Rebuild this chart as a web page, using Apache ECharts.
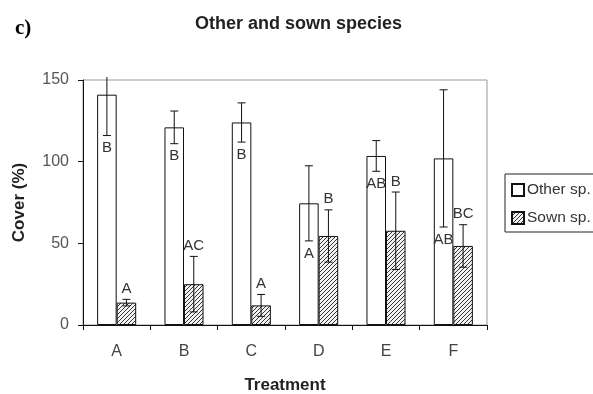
<!DOCTYPE html>
<html>
<head>
<meta charset="utf-8">
<script src="https://cdn.jsdelivr.net/npm/echarts@6/dist/echarts.min.js"></script>
<style>
html,body{margin:0;padding:0;background:#fff;}
#chart{width:593px;height:394px;}
</style>
</head>
<body>
<div id="chart"></div>
<script>
const categories = ['A', 'B', 'C', 'D', 'E', 'F'];
const otherMean = [141, 121, 124, 74.5, 103.5, 102];
const otherErr = [25, 10, 12, 23, 9.4, 42];
const sownMean = [13.7, 25, 12, 54.5, 57.7, 48.4];
const sownErr = [2, 17, 6.7, 16, 23.7, 13];
const otherLetters = ['B', 'B', 'B', 'A', 'AB', 'AB'];
const sownLetters = ['A', 'AC', 'A', 'B', 'B', 'BC'];
const yMin = 0, yMax = 150, yInterval = 50;

const BAR_FRAC = 0.29;
const FONT = 'Liberation Sans, Arial, sans-serif';

// hatch pattern
const pc = document.createElement('canvas');
pc.width = 4; pc.height = 4;
const pctx = pc.getContext('2d');
pctx.fillStyle = '#f2f2f2';
pctx.fillRect(0, 0, 4, 4);
pctx.strokeStyle = '#333';
pctx.lineWidth = 1;
pctx.beginPath();
pctx.moveTo(0, 4); pctx.lineTo(4, 0);
pctx.moveTo(-1, 1); pctx.lineTo(1, -1);
pctx.moveTo(3, 5); pctx.lineTo(5, 3);
pctx.stroke();
const hatch = { image: pc, repeat: 'repeat' };

function makeErr(side, means, errs, letters, letterAbove) {
  return function (params, api) {
    const i = api.value(0);
    const m = api.value(1);
    const e = api.value(2);
    const bw = api.size([1, 0])[0] * BAR_FRAC;
    const cx = api.coord([i, 0])[0] + side * bw / 2;
    const pTop = api.coord([i, m + e])[1];
    const pBot = api.coord([i, m - e])[1];
    const pLim = api.coord([i, yMax])[1];
    const clipped = (m + e) > yMax;
    const top = clipped ? pLim - 3 : pTop;
    const st = { stroke: '#111', lineWidth: 1 };
    const ch = [
      { type: 'line', shape: { x1: cx, y1: top, x2: cx, y2: pBot }, style: st },
      { type: 'line', shape: { x1: cx - 4, y1: pBot, x2: cx + 4, y2: pBot }, style: st }
    ];
    if (!clipped) ch.push({ type: 'line', shape: { x1: cx - 4, y1: top, x2: cx + 4, y2: top }, style: st });
    const lt = letters[params.dataIndex];
    ch.push({
      type: 'text',
      style: {
        text: lt, x: cx, y: letterAbove ? top - 3 : pBot + 5,
        align: 'center', verticalAlign: letterAbove ? 'bottom' : 'top',
        font: '15px ' + FONT, fill: '#333'
      }
    });
    return { type: 'group', children: ch };
  };
}

const chart = echarts.init(document.getElementById('chart'), null, { renderer: 'canvas' });
chart.setOption({
  animation: false,
  backgroundColor: '#fff',
  title: {
    text: 'Other and sown species',
    left: 190, top: 10,
    textStyle: { fontFamily: FONT, fontSize: 18, fontWeight: 'bold', color: '#222' }
  },
  graphic: [{
    type: 'text', left: 15, top: 18,
    style: { text: 'c)', font: 'bold 21px Liberation Serif, Times New Roman, serif', fill: '#000' }
  }],
  legend: {
    orient: 'vertical',
    left: 505, top: 174,
    padding: [8, 14, 6, 6],
    itemGap: 12,
    itemWidth: 12, itemHeight: 12,
    icon: 'rect',
    borderColor: '#222', borderWidth: 1,
    textStyle: { fontFamily: FONT, fontSize: 15.5, color: '#333', padding: [0, 0, 0, -2] },
    data: ['Other sp.', 'Sown sp.']
  },
  grid: {
    left: 83, right: 106, top: 80, bottom: 69,
    containLabel: false,
    outerBoundsMode: 'none',
    show: true, borderColor: '#999', borderWidth: 1, backgroundColor: 'transparent'
  },
  xAxis: {
    type: 'category',
    data: categories,
    name: 'Treatment',
    nameLocation: 'middle',
    nameGap: 52,
    nameTextStyle: { fontFamily: FONT, fontSize: 17, fontWeight: 'bold', color: '#222' },
    axisLine: { lineStyle: { color: '#111', width: 1 } },
    axisTick: { show: true, length: 5, lineStyle: { color: '#111' } },
    axisLabel: { margin: 19, fontFamily: FONT, fontSize: 16, color: '#444' }
  },
  yAxis: {
    type: 'value',
    min: yMin, max: yMax, interval: yInterval,
    name: 'Cover (%)',
    nameLocation: 'middle',
    nameGap: 55,
    nameTextStyle: { fontFamily: FONT, fontSize: 17, fontWeight: 'bold', color: '#222' },
    axisLine: { show: true, lineStyle: { color: '#111', width: 1 } },
    axisTick: { show: true, length: 5, lineStyle: { color: '#111' } },
    axisLabel: { margin: 14, fontFamily: FONT, fontSize: 16, color: '#555' },
    splitLine: { show: false }
  },
  series: [
    {
      name: 'Other sp.', type: 'bar', barWidth: (BAR_FRAC * 100) + '%', barGap: '0%',
      data: otherMean,
      itemStyle: { color: '#fff', borderColor: '#111', borderWidth: 1 }
    },
    {
      name: 'Sown sp.', type: 'bar', barWidth: (BAR_FRAC * 100) + '%', barGap: '0%',
      data: sownMean,
      itemStyle: { color: hatch, borderColor: '#111', borderWidth: 1 }
    },
    {
      type: 'custom', z: 5, clip: false,
      data: categories.map((c, i) => [i, otherMean[i], otherErr[i]]),
      encode: { x: 0, y: 1 },
      renderItem: makeErr(-1, otherMean, otherErr, otherLetters, false)
    },
    {
      type: 'custom', z: 5, clip: false,
      data: categories.map((c, i) => [i, sownMean[i], sownErr[i]]),
      encode: { x: 0, y: 1 },
      renderItem: makeErr(1, sownMean, sownErr, sownLetters, true)
    }
  ]
});
</script>
</body>
</html>
